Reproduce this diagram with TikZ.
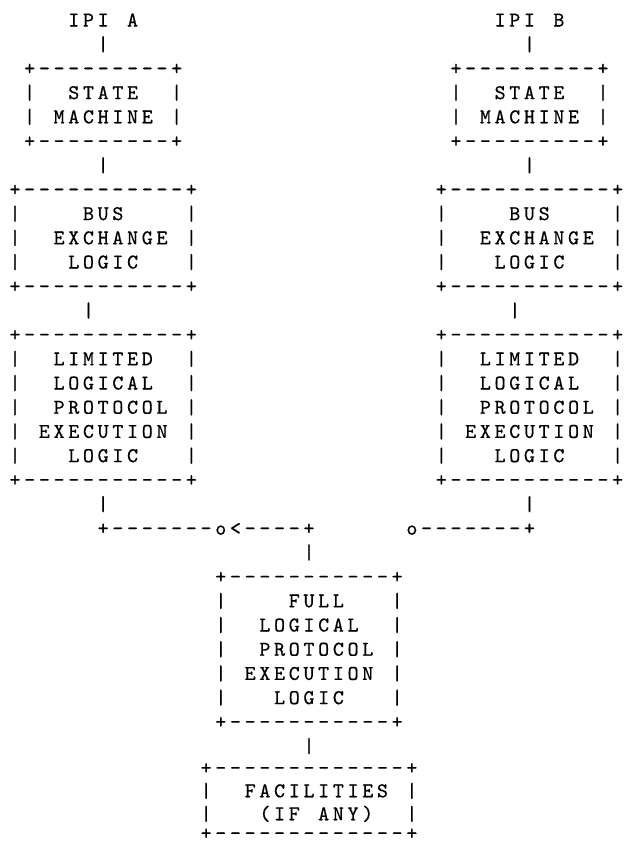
\documentclass[tikz,border=0pt]{standalone}
\usepackage{fontspec}
\newfontfamily\ascfont{lmmono10-regular.otf}[FakeBold=0.5]
% every character sits in a cell of the typewriter pitch
\newcommand\spc[1]{\spcloop#1\relax}
\def\spcloop#1{\ifx\relax#1\else\makebox[14.7pt]{#1}\expandafter\spcloop\fi}
\tikzset{
  asc/.style={font=\ascfont\fontsize{21pt}{21pt}\selectfont,
    inner sep=0pt, outer sep=0pt, anchor=base west,
    text height=12pt, text depth=0pt},
}
% text placed by column and row
\newcommand\tx[4]{\node[asc] (#1) at (#2,#3) {\spc{#4}};}
% #1 name, #2 left col, #3 right col, #4 top row, #5 last side row, #6 bottom row, #7 border string
\newcommand\asciibox[7]{%
  \node[asc] (#1-top) at (#2,#4) {\spc{#7}};
  \node[asc] (#1-bot) at (#2,#6) {\spc{#7}};
  \pgfmathtruncatemacro\rfirst{#4+1}%
  \foreach \r in {\rfirst,...,#5}{%
    \node[asc] (#1-l\r) at (#2,\r) {\spc{|}};
    \node[asc] (#1-r\r) at (#3,\r) {\spc{|}};
  }%
}
\begin{document}
\begin{tikzpicture}[x=1pt,y=-1pt]
\useasboundingbox (0,0) rectangle (624,846);
\begin{scope}[shift={(7.65,26.5)}, x=14.7pt, y=-24.2pt]
  % ---------- left branch (IPI A) ----------
  \tx{ipiA}{4}{0}{IPI~A}
  \tx{pA1}{6}{1}{|}
  \asciibox{smA}{1}{11}{2}{4}{5}{+---------+}
  \tx{smA1}{4}{3}{STATE}
  \tx{smA2}{3}{4}{MACHINE}
  \tx{pA2}{6}{6}{|}
  \asciibox{busA}{0}{12}{7}{10}{11}{+-----------+}
  \tx{busA1}{5}{8}{BUS}
  \tx{busA2}{3}{9}{EXCHANGE}
  \tx{busA3}{4}{10}{LOGIC}
  \tx{pA3}{5}{12}{|}
  \asciibox{limA}{0}{12}{13}{18}{19}{+-----------+}
  \tx{limA1}{3}{14}{LIMITED}
  \tx{limA2}{3}{15}{LOGICAL}
  \tx{limA3}{3}{16}{PROTOCOL}
  \tx{limA4}{2}{17}{EXECUTION}
  \tx{limA5}{4}{18}{LOGIC}
  \tx{pA4}{6}{20}{|}
  \tx{linkA}{6}{21}{+-------o<----+}
  % ---------- right branch (IPI B) ----------
  \tx{ipiB}{33}{0}{IPI~B}
  \tx{pB1}{35}{1}{|}
  \asciibox{smB}{30}{40}{2}{4}{5}{+---------+}
  \tx{smB1}{33}{3}{STATE}
  \tx{smB2}{32}{4}{MACHINE}
  \tx{pB2}{35}{6}{|}
  \asciibox{busB}{29}{41}{7}{10}{11}{+-----------+}
  \tx{busB1}{34}{8}{BUS}
  \tx{busB2}{32}{9}{EXCHANGE}
  \tx{busB3}{33}{10}{LOGIC}
  \tx{pB3}{34}{12}{|}
  \asciibox{limB}{29}{41}{13}{18}{19}{+-----------+}
  \tx{limB1}{32}{14}{LIMITED}
  \tx{limB2}{32}{15}{LOGICAL}
  \tx{limB3}{32}{16}{PROTOCOL}
  \tx{limB4}{31}{17}{EXECUTION}
  \tx{limB5}{33}{18}{LOGIC}
  \tx{pB4}{35}{20}{|}
  \tx{linkB}{27}{21}{o-------+}
  % ---------- common part ----------
  \tx{pC1}{20}{22}{|}
  \asciibox{full}{14}{26}{23}{28}{29}{+-----------+}
  \tx{full1}{19}{24}{FULL}
  \tx{full2}{17}{25}{LOGICAL}
  \tx{full3}{17}{26}{PROTOCOL}
  \tx{full4}{16}{27}{EXECUTION}
  \tx{full5}{18}{28}{LOGIC}
  \tx{pC2}{20}{30}{|}
  % facilities box (rows drawn slightly closer so the last one stays on the page)
  \node[asc] (fac-top) at (13,30.9) {\spc{+-------------+}};
  \node[asc] (fac-l32) at (13,31.85) {\spc{|}};
  \node[asc] (fac-r32) at (27,31.85) {\spc{|}};
  \node[asc] (fac-l33) at (13,32.8) {\spc{|}};
  \node[asc] (fac-r33) at (27,32.8) {\spc{|}};
  \node[asc] (fac-bot) at (13,33.6) {\spc{+-------------+}};
  \tx{fac1}{16}{31.85}{FACILITIES}
  \tx{fac2}{17}{32.8}{(IF~ANY)}
\end{scope}
\end{tikzpicture}
\end{document}
